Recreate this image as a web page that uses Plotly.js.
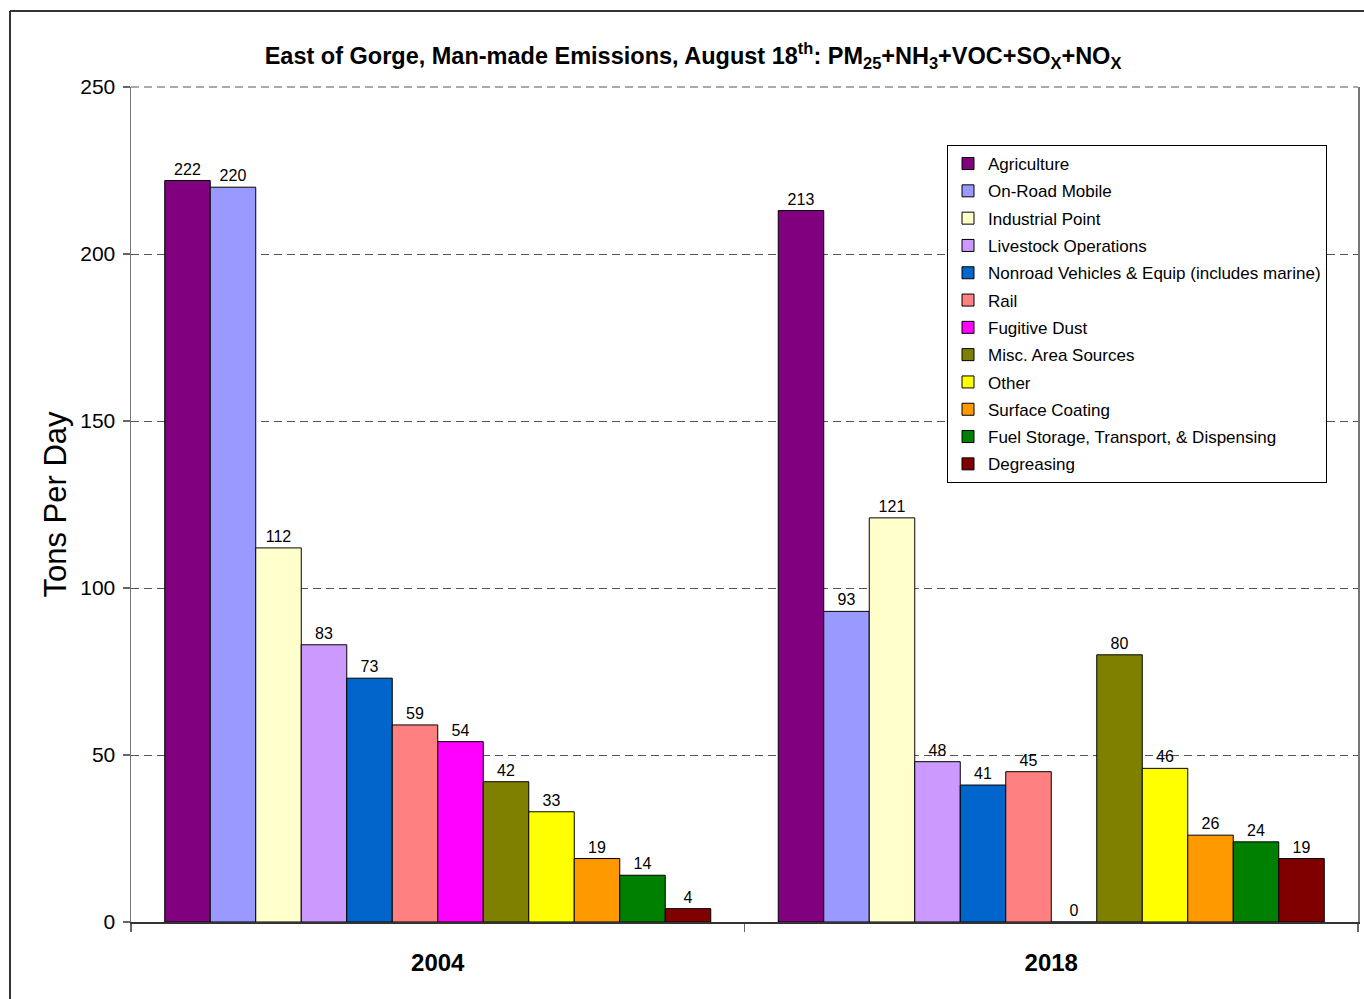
<!DOCTYPE html>
<html>
<head>
<meta charset="utf-8">
<script src="https://cdn.plot.ly/plotly-3.0.1.min.js"></script>
<style>
  html, body { margin: 0; padding: 0; background: #fff; }
  #chart { width: 1364px; height: 999px; }
</style>
</head>
<body>
<div id="chart"></div>
<script>
const years = ['2004', '2018'];
const sources = [
  'Agriculture', 'On-Road Mobile', 'Industrial Point', 'Livestock Operations',
  'Nonroad Vehicles & Equip (includes marine)', 'Rail', 'Fugitive Dust',
  'Misc. Area Sources', 'Other', 'Surface Coating',
  'Fuel Storage, Transport, & Dispensing', 'Degreasing'
];
const values2004 = [222, 220, 112, 83, 73, 59, 54, 42, 33, 19, 14, 4];
const values2018 = [213, 93, 121, 48, 41, 45, 0, 80, 46, 26, 24, 19];
const colors = ['#800080', '#9999FF', '#FFFFCC', '#CC99FF', '#0066CC', '#FF8080',
  '#FF00FF', '#808000', '#FFFF00', '#FF9900', '#008000', '#800000'];

const FONT = 'Arial, "Liberation Sans", sans-serif';

const traces = sources.map((name, i) => ({
  type: 'bar',
  name: name,
  x: years,
  y: [values2004[i], values2018[i]],
  text: [String(values2004[i]), String(values2018[i])],
  textposition: 'outside',
  cliponaxis: false,
  textfont: { family: FONT, size: 16, color: '#000' },
  marker: { color: colors[i], line: { color: '#000', width: 1 } },
  legendgroup: 'g' + i
}));

const L = 131, R = 6, T = 87, B = 77, W = 1364, H = 999;
const pw = W - L - R, ph = H - T - B;
const px = v => (v - L) / pw;
const py = v => (H - B - v) / ph;

const layout = {
  width: W, height: H,
  margin: { l: L, r: R, t: T, b: B },
  paper_bgcolor: '#fff', plot_bgcolor: '#fff',
  font: { family: FONT, color: '#000' },
  barmode: 'group',
  bargap: 0.11,
  bargroupgap: 0,
  showlegend: true,
  title: {
    text: 'East of Gorge, Man-made Emissions, August 18<sup>th</sup>: PM<sub>25</sub>+NH<sub>3</sub>+VOC+SO<sub>X</sub>+NO<sub>X</sub>',
    font: { family: FONT, size: 23.5, color: '#000', weight: 'bold' },
    x: 693 / W, xanchor: 'center', xref: 'container',
    y: 1 - 56 / H, yanchor: 'middle', yref: 'container'
  },
  xaxis: {
    type: 'category',
    showline: true, linecolor: '#333', linewidth: 1.5,
    ticks: 'outside', tickson: 'boundaries', ticklen: 8, tickcolor: '#666', tickwidth: 1.5,
    tickfont: { family: FONT, size: 24, color: '#000', weight: 'bold' },
    ticklabelstandoff: 19,
    showgrid: false, zeroline: false, mirror: false
  },
  yaxis: {
    range: [0, 250], tickvals: [0, 50, 100, 150, 200, 250],
    showline: true, linecolor: '#777', linewidth: 1.5, mirror: true,
    ticks: 'outside', ticklen: 7, tickcolor: '#666', tickwidth: 1.5,
    tickfont: { family: FONT, size: 21, color: '#000' },
    ticklabelstandoff: 3,
    showgrid: true, gridcolor: '#555', gridwidth: 1, griddash: '8px,5px',
    zeroline: false,
    title: { text: 'Tons Per Day', font: { family: FONT, size: 31, color: '#000' }, standoff: 4 }
  },
  legend: {
    x: px(947), y: py(145), xanchor: 'left', yanchor: 'top',
    bgcolor: '#fff', bordercolor: '#000', borderwidth: 1,
    font: { family: FONT, size: 17, color: '#000' },
    traceorder: 'grouped', tracegroupgap: 2.2, itemwidth: 30
  },
  shapes: [
    { type: 'line', xref: 'paper', yref: 'paper', x0: 0, x1: 1, y0: 1, y1: 1, layer: 'below',
      line: { color: '#555', width: 1, dash: '8px,5px' } },
    { type: 'line', xref: 'paper', yref: 'paper', x0: px(10), x1: px(10), y0: py(11), y1: py(1010), line: { color: '#333', width: 2 } },
    { type: 'line', xref: 'paper', yref: 'paper', x0: px(10), x1: px(1370), y0: py(11), y1: py(11), line: { color: '#333', width: 2 } }
  ]
};

Plotly.newPlot('chart', traces, layout, { staticPlot: true, displayModeBar: false });
</script>
</body>
</html>
